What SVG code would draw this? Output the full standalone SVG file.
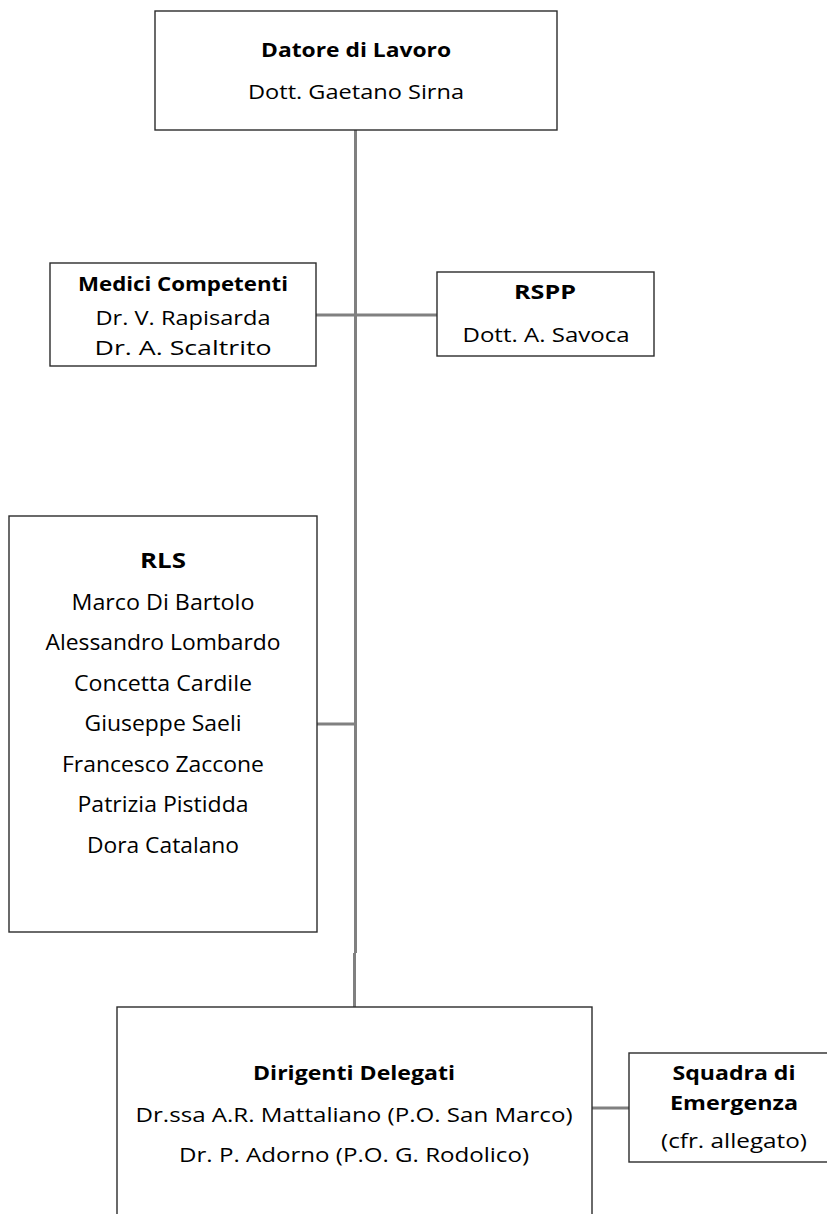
<svg xmlns="http://www.w3.org/2000/svg" width="827" height="1214" viewBox="0 0 827 1214">
<style>
.box{fill:#fff;stroke:#2b2b2b;stroke-width:1.4}
.ln{stroke:#808080;stroke-width:3;fill:none}
text{font-family:"Open Sans","Noto Sans","Liberation Sans",sans-serif;fill:#000;text-anchor:middle;font-size:19.5px}
.b{font-weight:bold}
.r{font-size:21.5px}
</style>
<rect width="827" height="1214" fill="#fff"/>
<g id="connectors">
<line class="ln" x1="355.5" y1="130" x2="355.5" y2="953"/>
<line class="ln" x1="354.5" y1="953" x2="354.5" y2="1007"/>
<line class="ln" x1="316" y1="315" x2="437" y2="315"/>
<line class="ln" x1="317" y1="724" x2="355" y2="724"/>
<line class="ln" x1="592" y1="1108" x2="629" y2="1108"/>
</g>
<g id="datore">
<rect class="box" x="155" y="11" width="402" height="119"/>
<text class="b" x="356" y="57" textLength="190" lengthAdjust="spacingAndGlyphs">Datore di Lavoro</text>
<text x="356" y="99" textLength="216" lengthAdjust="spacingAndGlyphs">Dott. Gaetano Sirna</text>
</g>
<g id="medici">
<rect class="box" x="50" y="263" width="266" height="103"/>
<text class="b" x="183" y="291" textLength="210" lengthAdjust="spacingAndGlyphs">Medici Competenti</text>
<text x="183" y="325" textLength="175" lengthAdjust="spacingAndGlyphs">Dr. V. Rapisarda</text>
<text x="183" y="355" textLength="177" lengthAdjust="spacingAndGlyphs">Dr. A. Scaltrito</text>
</g>
<g id="rspp">
<rect class="box" x="437" y="272" width="217" height="84"/>
<text class="b" x="545" y="299" textLength="62" lengthAdjust="spacingAndGlyphs">RSPP</text>
<text x="546" y="342" textLength="167" lengthAdjust="spacingAndGlyphs">Dott. A. Savoca</text>
</g>
<g id="rls">
<rect class="box" x="9" y="516" width="308" height="416"/>
<text class="b r" x="163" y="568" textLength="46" lengthAdjust="spacingAndGlyphs">RLS</text>
<text class="r" x="163" y="610" textLength="183" lengthAdjust="spacingAndGlyphs">Marco Di Bartolo</text>
<text class="r" x="163" y="650" textLength="235" lengthAdjust="spacingAndGlyphs">Alessandro Lombardo</text>
<text class="r" x="163" y="691" textLength="178" lengthAdjust="spacingAndGlyphs">Concetta Cardile</text>
<text class="r" x="163" y="731" textLength="157" lengthAdjust="spacingAndGlyphs">Giuseppe Saeli</text>
<text class="r" x="163" y="772" textLength="202" lengthAdjust="spacingAndGlyphs">Francesco Zaccone</text>
<text class="r" x="163" y="812" textLength="171" lengthAdjust="spacingAndGlyphs">Patrizia Pistidda</text>
<text class="r" x="163" y="853" textLength="152" lengthAdjust="spacingAndGlyphs">Dora Catalano</text>
</g>
<g id="dirigenti">
<rect class="box" x="117" y="1007" width="475" height="230"/>
<text class="b" x="354" y="1080" textLength="202" lengthAdjust="spacingAndGlyphs">Dirigenti Delegati</text>
<text x="354" y="1122" textLength="437" lengthAdjust="spacingAndGlyphs">Dr.ssa A.R. Mattaliano (P.O. San Marco)</text>
<text x="354" y="1162" textLength="350" lengthAdjust="spacingAndGlyphs">Dr. P. Adorno (P.O. G. Rodolico)</text>
</g>
<g id="squadra">
<rect class="box" x="629" y="1053" width="220" height="109"/>
<text class="b" x="734" y="1080" textLength="123" lengthAdjust="spacingAndGlyphs">Squadra di</text>
<text class="b" x="734" y="1110" textLength="128" lengthAdjust="spacingAndGlyphs">Emergenza</text>
<text x="734" y="1148" textLength="146" lengthAdjust="spacingAndGlyphs">(cfr. allegato)</text>
</g>
</svg>
